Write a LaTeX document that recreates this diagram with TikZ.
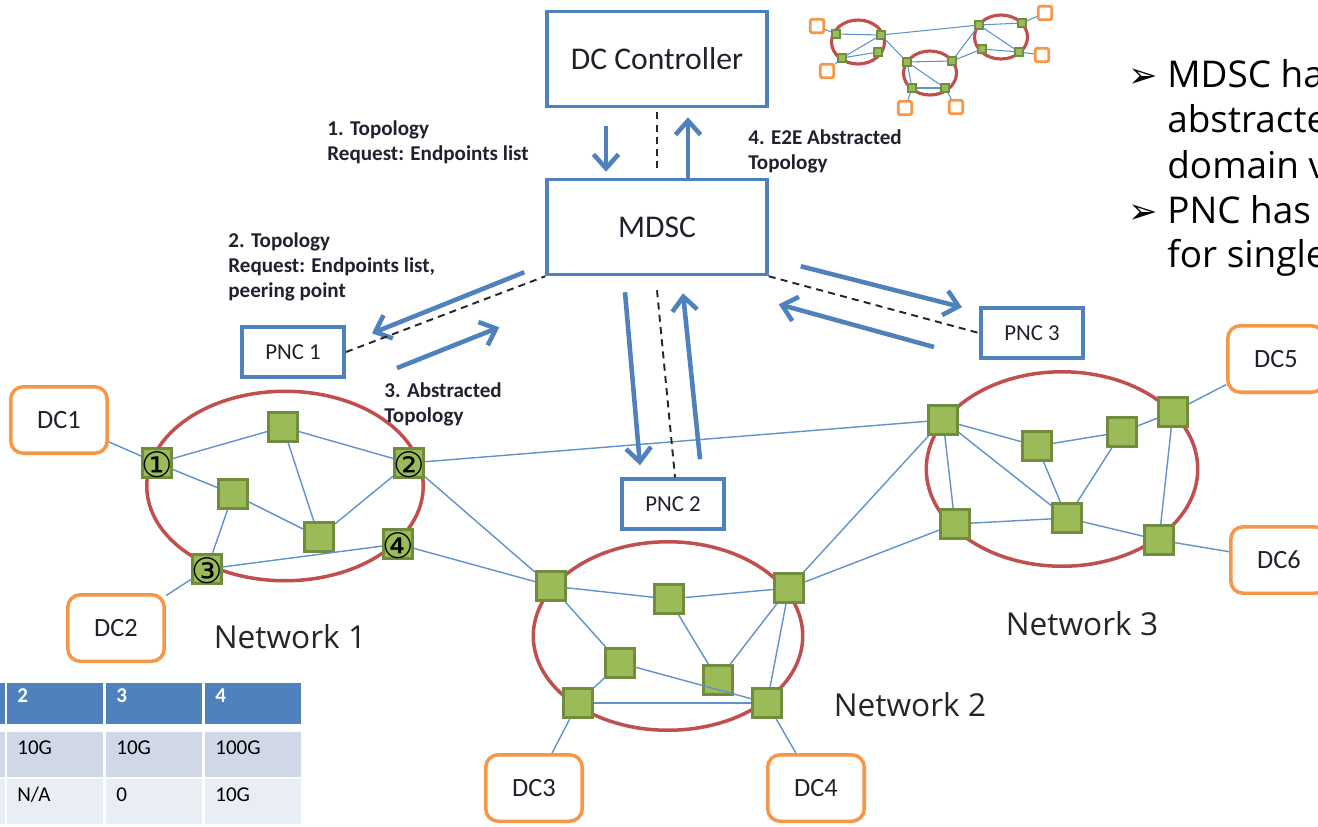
\documentclass[tikz,border=0pt]{standalone}
\usepackage{fontspec}
\setmainfont{Carlito}
\newfontfamily\wideface{Open Sans}
\newfontfamily\symface{DejaVu Sans}
\usetikzlibrary{positioning, arrows.meta, shapes.geometric}

\definecolor{boxblue}{RGB}{79,129,189}
\definecolor{linkblue}{RGB}{96,146,204}
\definecolor{dcorange}{RGB}{247,150,70}
\definecolor{netred}{RGB}{192,80,77}
\definecolor{swgreen}{RGB}{155,187,89}
\definecolor{swedge}{RGB}{113,140,60}
\definecolor{rowa}{RGB}{208,216,232}
\definecolor{rowb}{RGB}{233,237,244}
\definecolor{inktext}{RGB}{35,32,45}

% circled port number laid over a switch, without growing it
\newcommand\portnum[1]{\smash{\makebox[0pt]{\raisebox{-0.42em}{#1}}}}

\begin{document}
\begin{tikzpicture}[
  x=0.02cm, y=-0.02cm,
  >={Straight Barb[length=2.8mm, width=5mm]},
  ctrl/.style    ={draw=boxblue, line width=2pt, fill=white, minimum width=4.4cm, minimum height=1.9cm, font=\fontsize{18}{21}\selectfont, text=inktext},
  pnc/.style     ={draw=boxblue, line width=2pt, fill=white, minimum width=2.05cm, minimum height=1.0cm, inner sep=0pt, font=\fontsize{13}{15}\selectfont, text=inktext},
  dc/.style      ={draw=dcorange, line width=2pt, rounded corners=0.25cm, fill=white, minimum width=1.93cm, minimum height=1.33cm, font=\fontsize{15}{17}\selectfont, text=inktext},
  net/.style     ={draw=netred, line width=2pt, ellipse, inner sep=0pt},
  sw/.style      ={draw=swedge, line width=1.6pt, fill=swgreen, minimum size=0.58cm, inner sep=0pt},
  port/.style    ={sw, font=\symface\fontsize{20}{20}\selectfont},
  link/.style    ={draw=linkblue, line width=0.8pt},
  arr/.style     ={->, draw=boxblue, line width=2.6pt},
  ctl/.style     ={draw=black!85, line width=1.1pt, dash pattern=on 4pt off 3pt},
  lab/.style     ={anchor=north west, align=left, inner sep=0pt, text=inktext, font=\bfseries\fontsize{12}{14.3}\selectfont},
  netname/.style ={font=\wideface\fontsize{18}{20}\selectfont, text=black!85},
  note/.style    ={anchor=base west, inner sep=0pt, font=\wideface\fontsize{21}{25}\selectfont},
  bul/.style     ={anchor=base west, inner sep=0pt, font=\symface\fontsize{20}{22}\selectfont},
  mininet/.style ={draw=netred, line width=1.8pt, ellipse, inner sep=0pt, minimum width=1.06cm, minimum height=0.88cm},
  ms/.style      ={draw=swedge, line width=0.6pt, fill=swgreen, minimum size=0.16cm, inner sep=0pt},
  mo/.style      ={draw=dcorange, line width=1.6pt, fill=white, rounded corners=1.2pt, minimum size=0.27cm, inner sep=0pt},
  minilink/.style={draw=linkblue, line width=0.6pt},
  cell/.style    ={anchor=north west, inner xsep=0.2cm, inner ysep=0.1cm, text width=1.52cm, align=left, font=\fontsize{12}{14}\selectfont},
  hcell/.style   ={cell, fill=boxblue, text=white, font=\bfseries\fontsize{12}{14}\selectfont, text height=0.28cm, text depth=0.34cm},
  acell/.style   ={cell, fill=rowa, text height=0.34cm, text depth=0.36cm},
  bcell/.style   ={cell, fill=rowb, text height=0.34cm, text depth=0.36cm},
]

\useasboundingbox (0,0) rectangle (1318,826);

% ---- controllers ----
\node[ctrl] (dcc)  at (657,59)  {DC Controller};
\node[ctrl] (mdsc) at (657,227) {MDSC};
\node[pnc]  (pnc1) at (293,352) {PNC 1};
\node[pnc]  (pnc2) at (673,504) {PNC 2};
\node[pnc]  (pnc3) at (1032,333) {PNC 3};

% ---- networks ----
\node[net, minimum width=5.53cm, minimum height=3.79cm] (net1) at (285,486) {};
\node[net, minimum width=5.39cm, minimum height=3.77cm] (net2) at (668,636) {};
\node[net, minimum width=5.43cm, minimum height=3.89cm] (net3) at (1062,469) {};

\node[netname] (name1) at (290,637)  {Network 1};
\node[netname] (name2) at (910,705)  {Network 2};
\node[netname] (name3) at (1082,624) {Network 3};

% ---- data centres ----
\node[dc] (dc1) at (59,420)   {DC1};
\node[dc] (dc2) at (116,628)  {DC2};
\node[dc] (dc3) at (534,788)  {DC3};
\node[dc] (dc4) at (816,788)  {DC4};
\node[dc] (dc5) at (1276,359) {DC5};
\node[dc] (dc6) at (1279,560) {DC6};

% ---- switches, network 1 ----
\node[port] (n1p1) at (157,463) {\portnum{①}};
\node[sw]   (n1t)  at (283,427) {};
\node[sw]   (n1m)  at (233,494) {};
\node[port] (n1p2) at (409,463) {\portnum{②}};
\node[sw]   (n1l)  at (319,537) {};
\node[port] (n1p3) at (207,569) {\portnum{③}};
\node[port] (n1p4) at (398,544) {\portnum{④}};

% ---- switches, network 2 ----
\node[sw] (n2a) at (551,586) {};
\node[sw] (n2b) at (669,599) {};
\node[sw] (n2c) at (789,588) {};
\node[sw] (n2d) at (620,663) {};
\node[sw] (n2e) at (718,680) {};
\node[sw] (n2f) at (578,703) {};
\node[sw] (n2g) at (767,703) {};

% ---- switches, network 3 ----
\node[sw] (n3a) at (943,420)  {};
\node[sw] (n3b) at (1037,446) {};
\node[sw] (n3c) at (1122,432) {};
\node[sw] (n3d) at (1173,412) {};
\node[sw] (n3e) at (955,524)  {};
\node[sw] (n3f) at (1067,518) {};
\node[sw] (n3g) at (1159,540) {};

% ---- links ----
\draw[link] (dc1) -- (n1p1);
\draw[link] (n1p1) -- (n1t);
\draw[link] (n1p1) -- (n1m);
\draw[link] (n1t) -- (n1p2);
\draw[link] (n1t) -- (n1l);
\draw[link] (n1m) -- (n1l);
\draw[link] (n1m) -- (n1p3);
\draw[link] (n1l) -- (n1p2);
\draw[link] (n1p3) -- (n1p4);
\draw[link] (n1p3) -- (dc2);

\draw[link] (n1p2) -- (n3a);
\draw[link] (n1p2) -- (n2a);
\draw[link] (n1p4) -- (n2a);
\draw[link] (n2c) -- (n3a);
\draw[link] (n2c) -- (n3e);

\draw[link] (n2a) -- (n2b);
\draw[link] (n2b) -- (n2c);
\draw[link] (n2b) -- (n2e);
\draw[link] (n2a) -- (n2d);
\draw[link] (n2d) -- (n2f);
\draw[link] (n2d) -- (n2g);
\draw[link] (n2f) -- (n2g);
\draw[link] (n2c) -- (n2e);
\draw[link] (n2c) -- (n2g);
\draw[link] (n2f) -- (dc3);
\draw[link] (n2g) -- (dc4);

\draw[link] (n3a) -- (n3b);
\draw[link] (n3a) -- (n3f);
\draw[link] (n3a) -- (n3e);
\draw[link] (n3b) -- (n3c);
\draw[link] (n3c) -- (n3d);
\draw[link] (n3b) -- (n3f);
\draw[link] (n3c) -- (n3f);
\draw[link] (n3d) -- (n3g);
\draw[link] (n3e) -- (n3f);
\draw[link] (n3f) -- (n3g);
\draw[link] (n3d) -- (dc5);
\draw[link] (n3g) -- (dc6);

% ---- requests and replies ----
\draw[arr] ([shift={(-51,18)}]dcc.south) -- ([shift={(-51,-6)}]mdsc.north);
\draw[arr] ([shift={(31,0)}]mdsc.north) -- ([shift={(31,9)}]dcc.south);
\draw[ctl] ([shift={(0,4)}]dcc.south) -- ([shift={(0,-6)}]mdsc.north);

\draw[arr] ([shift={(-21,-4)}]mdsc.south west) -- ([shift={(26,8)}]pnc1.north east);
\draw[arr] ([shift={(51,16)}]pnc1.east) -- ([shift={(-46,51)}]mdsc.south west);
\draw[ctl] (pnc1.east) -- (mdsc.south west);

\draw[arr] ([shift={(-32,16)}]mdsc.south) -- ([shift={(-33,-12)}]pnc2.north);
\draw[arr] ([shift={(27,-18)}]pnc2.north) -- ([shift={(26,17)}]mdsc.south);
\draw[ctl] ([shift={(0,14)}]mdsc.south) -- ([shift={(2,0)}]pnc2.north);

\draw[arr] ([shift={(32,-10)}]mdsc.south east) -- ([shift={(-17,1)}]pnc3.north west);
\draw[arr] ([shift={(-45,14)}]pnc3.west) -- ([shift={(10,28)}]mdsc.south east);
\draw[ctl] (mdsc.south east) -- (pnc3.west);

\node[lab] (lab1) at (327,120) {1. Topology\\Request: Endpoints list};
\node[lab] (lab4) at (748,129) {4. E2E Abstracted\\Topology};
\node[lab] (lab2) at (228,232) {2. Topology\\Request: Endpoints list,\\peering point};
\node[lab] (lab3) at (384,382) {3. Abstracted\\Topology};

% ---- small overview ----
\node[mininet] (mc1) at (858,42)  {};
\node[mininet] (mc2) at (930,73)  {};
\node[mininet] (mc3) at (1001,37) {};

\node[ms] (m1)  at (836,34)  {};
\node[ms] (m2)  at (881,35)  {};
\node[ms] (m3)  at (878,52)  {};
\node[ms] (m4)  at (842,58)  {};
\node[ms] (m5)  at (907,62)  {};
\node[ms] (m6)  at (952,61)  {};
\node[ms] (m7)  at (912,88)  {};
\node[ms] (m8)  at (945,88)  {};
\node[ms] (m9)  at (979,25)  {};
\node[ms] (m10) at (1022,23) {};
\node[ms] (m11) at (982,49)  {};
\node[ms] (m12) at (1019,52) {};

\node[mo] (o1) at (817,26)  {};
\node[mo] (o2) at (827,71)  {};
\node[mo] (o3) at (905,108) {};
\node[mo] (o4) at (956,107) {};
\node[mo] (o5) at (1045,13) {};
\node[mo] (o6) at (1042,55) {};

\draw[minilink] (o1) -- (m1);
\draw[minilink] (m1) -- (m2);
\draw[minilink] (m4) -- (m2);
\draw[minilink] (m4) -- (m3);
\draw[minilink] (m4) -- (o2);
\draw[minilink] (m2) -- (m5);
\draw[minilink] (m2) -- (m9);
\draw[minilink] (m5) -- (m6);
\draw[minilink] (m5) -- (m8);
\draw[minilink] (m5) -- (m7);
\draw[minilink] (m7) -- (m8);
\draw[minilink] (m6) -- (m9);
\draw[minilink] (m6) -- (m11);
\draw[minilink] (m9) -- (m10);
\draw[minilink] (m9) -- (m12);
\draw[minilink] (m11) -- (m12);
\draw[minilink] (m10) -- (o5);
\draw[minilink] (m12) -- (o6);
\draw[minilink] (m7) -- (o3);
\draw[minilink] (m8) -- (o4);

% ---- notes (run off the page edge) ----
\node[bul]  (b1)  at (1128,87)  {➢};
\node[note] (ln1) at (1167,87)  {MDSC ha};
\node[note] (ln2) at (1167,132) {abstracte};
\node[note] (ln3) at (1167,178) {domain v};
\node[bul]  (b2)  at (1128,223) {➢};
\node[note] (ln4) at (1167,223) {PNC has};
\node[note] (ln5) at (1167,267) {for single};

% ---- table ----
\node[hcell] (t1h) at (-91,683) {};
\node[hcell] (t2h) at (7,683)   {2};
\node[hcell] (t3h) at (106,683) {3};
\node[hcell] (t4h) at (205,683) {4};
\node[acell] (t1a) at (-91,732) {};
\node[acell] (t2a) at (7,732)   {10G};
\node[acell] (t3a) at (106,732) {10G};
\node[acell] (t4a) at (205,732) {100G};
\node[bcell] (t1b) at (-91,779) {};
\node[bcell] (t2b) at (7,779)   {N/A};
\node[bcell] (t3b) at (106,779) {0};
\node[bcell] (t4b) at (205,779) {10G};

\end{tikzpicture}
\end{document}
